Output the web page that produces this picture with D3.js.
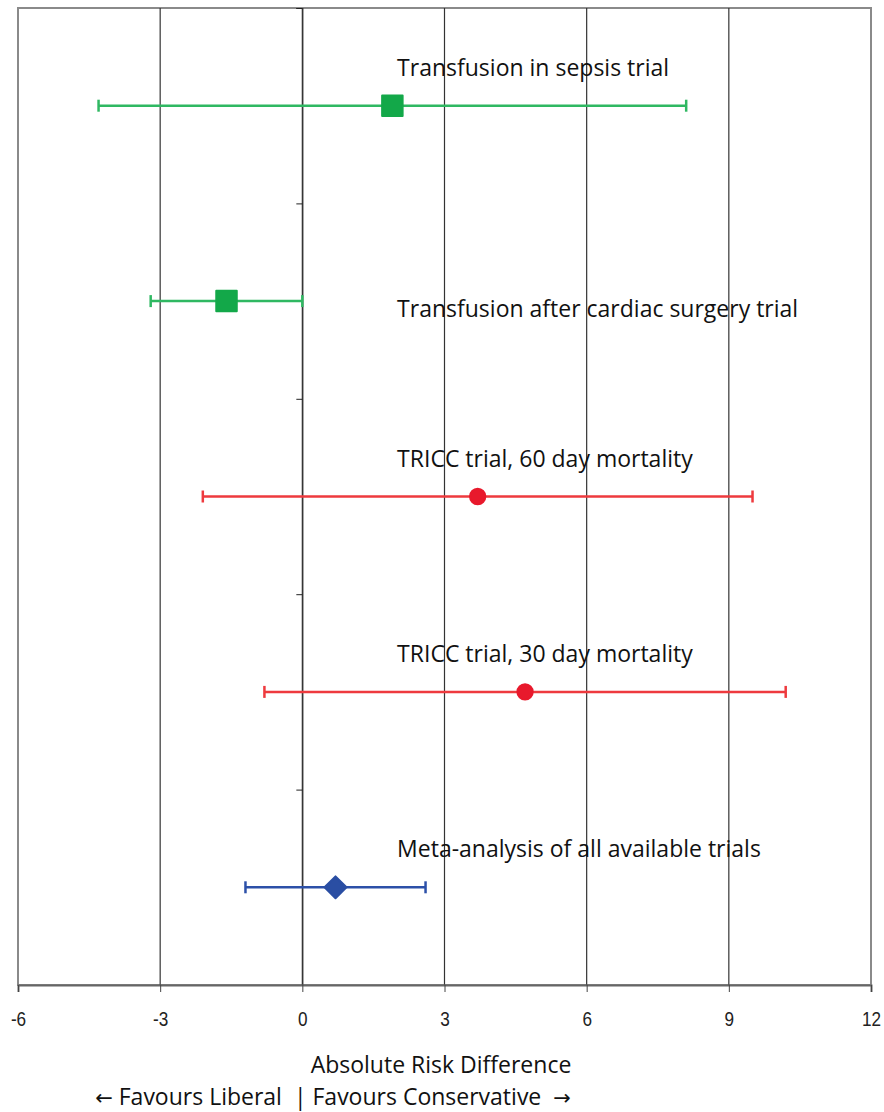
<!DOCTYPE html>
<html>
<head>
<meta charset="utf-8">
<script src="https://cdn.jsdelivr.net/npm/d3@7"></script>
<style>
  body { margin: 0; background: #fff; }
  svg { display: block; }
</style>
</head>
<body>
<svg width="884" height="1112"></svg>
<script>
const trials = [
	"Transfusion in sepsis trial",
	"Transfusion after cardiac surgery trial",
	"TRICC trial, 60 day mortality",
	"TRICC trial, 30 day mortality",
	"Meta-analysis of all available trials",
];
const estimates = [1.9, -1.6, 3.7, 4.7, 0.7];
const lowerCI = [-4.3, -3.2, -2.1, -0.8, -1.2];
const upperCI = [8.1, 0.0, 9.5, 10.2, 2.6];
const markers = ["square", "square", "circle", "circle", "diamond"];
const labelBelow = [false, true, false, false, false];
const xTicks = [-6, -3, 0, 3, 6, 9, 12];

const colors = {
	square: { line: "#2fb862", fill: "#13a849" },
	circle: { line: "#ee3a3e", fill: "#e8192c" },
	diamond: { line: "#2c50a8", fill: "#2a4ea3" },
};

const labelFont = "'Open Sans', 'Noto Sans', sans-serif";

const svg = d3.select("svg");
const margin = { top: 8, right: 13, bottom: 127, left: 18 };
const width = 884 - margin.left - margin.right;
const height = 1112 - margin.top - margin.bottom;

const data = trials.map((t, i) => ({
	name: t,
	est: estimates[i],
	lo: lowerCI[i],
	hi: upperCI[i],
	marker: markers[i],
	below: labelBelow[i],
	row: 4.5 - i,
}));

const x = d3.scaleLinear().domain([-6, 12]).range([0, width]);
const y = d3.scaleLinear().domain([0, 5]).range([height, 0]);

const g = svg.append("g").attr("transform", `translate(${margin.left},${margin.top})`);

// frame
g.append("rect")
	.attr("width", width)
	.attr("height", height)
	.attr("fill", "none")
	.attr("stroke", "#8a8a8a")
	.attr("stroke-width", 2);

// vertical gridlines
g.selectAll(".grid")
	.data(xTicks.filter((d) => d > -6 && d < 12))
	.enter()
	.append("line")
	.attr("x1", (d) => x(d))
	.attr("x2", (d) => x(d))
	.attr("y1", 0)
	.attr("y2", height)
	.attr("stroke", "#333")
	.attr("stroke-width", 1.2);

// y axis on the zero line, no labels
const yAxis = g.append("g")
	.attr("transform", `translate(${x(0)},0)`)
	.call(d3.axisLeft(y).tickValues([0, 1, 2, 3, 4, 5]).tickSize(6).tickFormat(""));
yAxis.select(".domain").attr("stroke", "#333").attr("stroke-width", 1.2);
yAxis.selectAll(".tick line").attr("stroke", "#222");

// x axis
const xAxis = g.append("g")
	.attr("transform", `translate(0,${height})`)
	.call(d3.axisBottom(x).tickValues(xTicks).tickSize(7).tickPadding(20).tickFormat((d) => String(d)));
xAxis.select(".domain").attr("stroke", "#666").attr("stroke-width", 2);
xAxis.selectAll(".tick line").attr("stroke", "#444");
xAxis.selectAll(".tick text")
	.attr("fill", "#222")
	.attr("transform", "scale(0.88,1)")
	.style("font-family", "'Liberation Sans', Arial, sans-serif")
	.style("font-size", "19.5px");

// error bars
const rows = g.selectAll(".row")
	.data(data)
	.enter()
	.append("g")
	.attr("class", "row")
	.attr("transform", (d) => `translate(0,${y(d.row)})`);

rows.append("line")
	.attr("x1", (d) => x(d.lo))
	.attr("x2", (d) => x(d.hi))
	.attr("stroke", (d) => colors[d.marker].line)
	.attr("stroke-width", 2.5);

rows.selectAll(".cap")
	.data((d) => [d.lo, d.hi].map((v) => ({ v, m: d.marker })))
	.enter()
	.append("line")
	.attr("x1", (c) => x(c.v))
	.attr("x2", (c) => x(c.v))
	.attr("y1", -6)
	.attr("y2", 6)
	.attr("stroke", (c) => colors[c.m].line)
	.attr("stroke-width", 2.5);

const symbolSize = { square: 420, circle: 185, diamond: 240 };

rows.append("path")
	.attr("transform", (d) => `translate(${x(d.est)},0)` + (d.marker === "diamond" ? " rotate(45)" : ""))
	.attr("d", (d) => d3.symbol(d.marker === "circle" ? d3.symbolCircle : d3.symbolSquare, symbolSize[d.marker])())
	.attr("fill", (d) => colors[d.marker].fill)
	.attr("stroke", (d) => colors[d.marker].fill)
	.attr("stroke-width", 2)
	.attr("stroke-linejoin", "round");

rows.append("text")
	.attr("x", x(2))
	.attr("y", (d) => (d.below ? 16 : -30))
	.attr("fill", "#111")
	.style("font-family", labelFont)
	.style("font-size", "23px")
	.text((d) => d.name);

// axis titles
svg.append("text")
	.attr("x", 441)
	.attr("y", 1073)
	.attr("text-anchor", "middle")
	.attr("fill", "#111")
	.style("font-family", labelFont)
	.style("font-size", "23px")
	.text("Absolute Risk Difference");

const sub = svg.append("text")
	.attr("x", 333)
	.attr("y", 1105)
	.attr("text-anchor", "middle")
	.attr("fill", "#111")
	.style("font-family", labelFont)
	.style("font-size", "23px")
	.style("white-space", "pre");
sub.append("tspan").style("font-family", "'DejaVu Sans', sans-serif").style("font-size", "21px").text("\u2190");
sub.append("tspan").text(" Favours Liberal  | Favours Conservative  ");
sub.append("tspan").style("font-family", "'DejaVu Sans', sans-serif").style("font-size", "21px").text("\u2192");
</script>
</body>
</html>
